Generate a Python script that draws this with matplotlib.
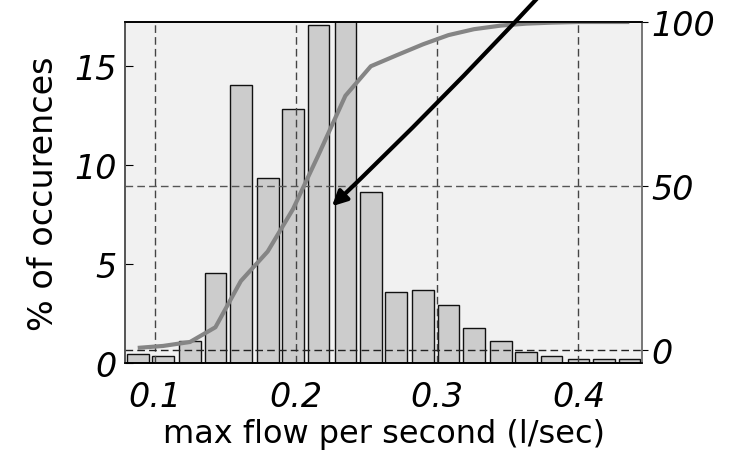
import numpy as np
import matplotlib.pyplot as plt

# histogram of max flow (bin centres in l/sec, % of occurrences)
flow = [0.088, 0.106, 0.125, 0.143, 0.161, 0.180, 0.198, 0.216, 0.235, 0.253,
        0.271, 0.290, 0.308, 0.326, 0.345, 0.363, 0.381, 0.400, 0.418, 0.436]
pct = [0.45, 0.35, 1.12, 4.54, 14.04, 9.33, 12.83, 17.07, 17.3, 8.6,
       3.58, 3.67, 2.9, 1.78, 1.1, 0.54, 0.37, 0.19, 0.19, 0.19]
# cumulative curve
cum = [0.6, 1.2, 2.4, 6.9, 21.0, 30.0, 43.0, 59.5, 77.5, 86.5,
       89.8, 93.2, 96.0, 97.8, 98.9, 99.5, 99.8, 100.0, 100.0, 100.0]

xticks = [0.1, 0.2, 0.3, 0.4]
yticks_left = [0, 5, 10, 15]
yticks_right = [0, 50, 100]

fig = plt.figure(figsize=(7.29, 4.56), dpi=100)
ax = fig.add_axes([0.1715, 0.2018, 0.7092, 0.7478])
ax.set_facecolor('#f1f1f1')

pitch = flow[1] - flow[0]
ax.bar(flow, pct, width=pitch * 0.85, color='#cccccc', edgecolor='#111111', linewidth=1.0)
ax.set_xlim(flow[0] - pitch / 2, flow[-1] + pitch / 2)
ax.set_ylim(0, 17.2)

ax2 = ax.twinx()
ax2.set_ylim(-4, 100)
dash = (0, (5.5, 3))
for x in xticks:
    ax2.axvline(x, color='#444444', lw=1, ls=dash)
ax2.axhline(0, color='#222222', lw=1, ls=dash)
ax2.axhline(50, color='#555555', lw=1, ls=dash)
ax2.plot(flow, cum, color='#858585', lw=3, solid_capstyle='butt')

# arrow pointing at the curve
ax2.annotate('', xy=(0.2255, 43.8), xytext=(0.3725, 108), annotation_clip=False,
             arrowprops=dict(arrowstyle='-|>', color='black', lw=3, mutation_scale=22,
                             connectionstyle='arc3,rad=-0.015', shrinkA=0, shrinkB=0))

tick_font = dict(family='DejaVu Sans', style='italic', size=24)
ax.set_xticks(xticks)
ax.set_xticklabels(['0.1', '0.2', '0.3', '0.4'], **tick_font)
ax.set_yticks(yticks_left)
ax.set_yticklabels([str(v) for v in yticks_left], **tick_font)
ax2.set_yticks(yticks_right)
ax2.set_yticklabels([str(v) for v in yticks_right], **tick_font)

ax.tick_params(axis='x', length=0, pad=12)
ax.tick_params(axis='y', direction='in', length=6, pad=6)
ax2.tick_params(axis='y', direction='out', length=4, pad=3)

ax.set_xlabel('max flow per second (l/sec)', fontsize=23, labelpad=4)
ax.set_ylabel('% of occurences', fontsize=24, labelpad=10)

for a in (ax, ax2):
    a.spines['top'].set_color('black')
    a.spines['bottom'].set_color('black')
    a.spines['left'].set_color('#555555')
    a.spines['right'].set_color('#777777')
    for s in a.spines.values():
        s.set_linewidth(1.2)

fig.savefig('out.png', dpi=100)
